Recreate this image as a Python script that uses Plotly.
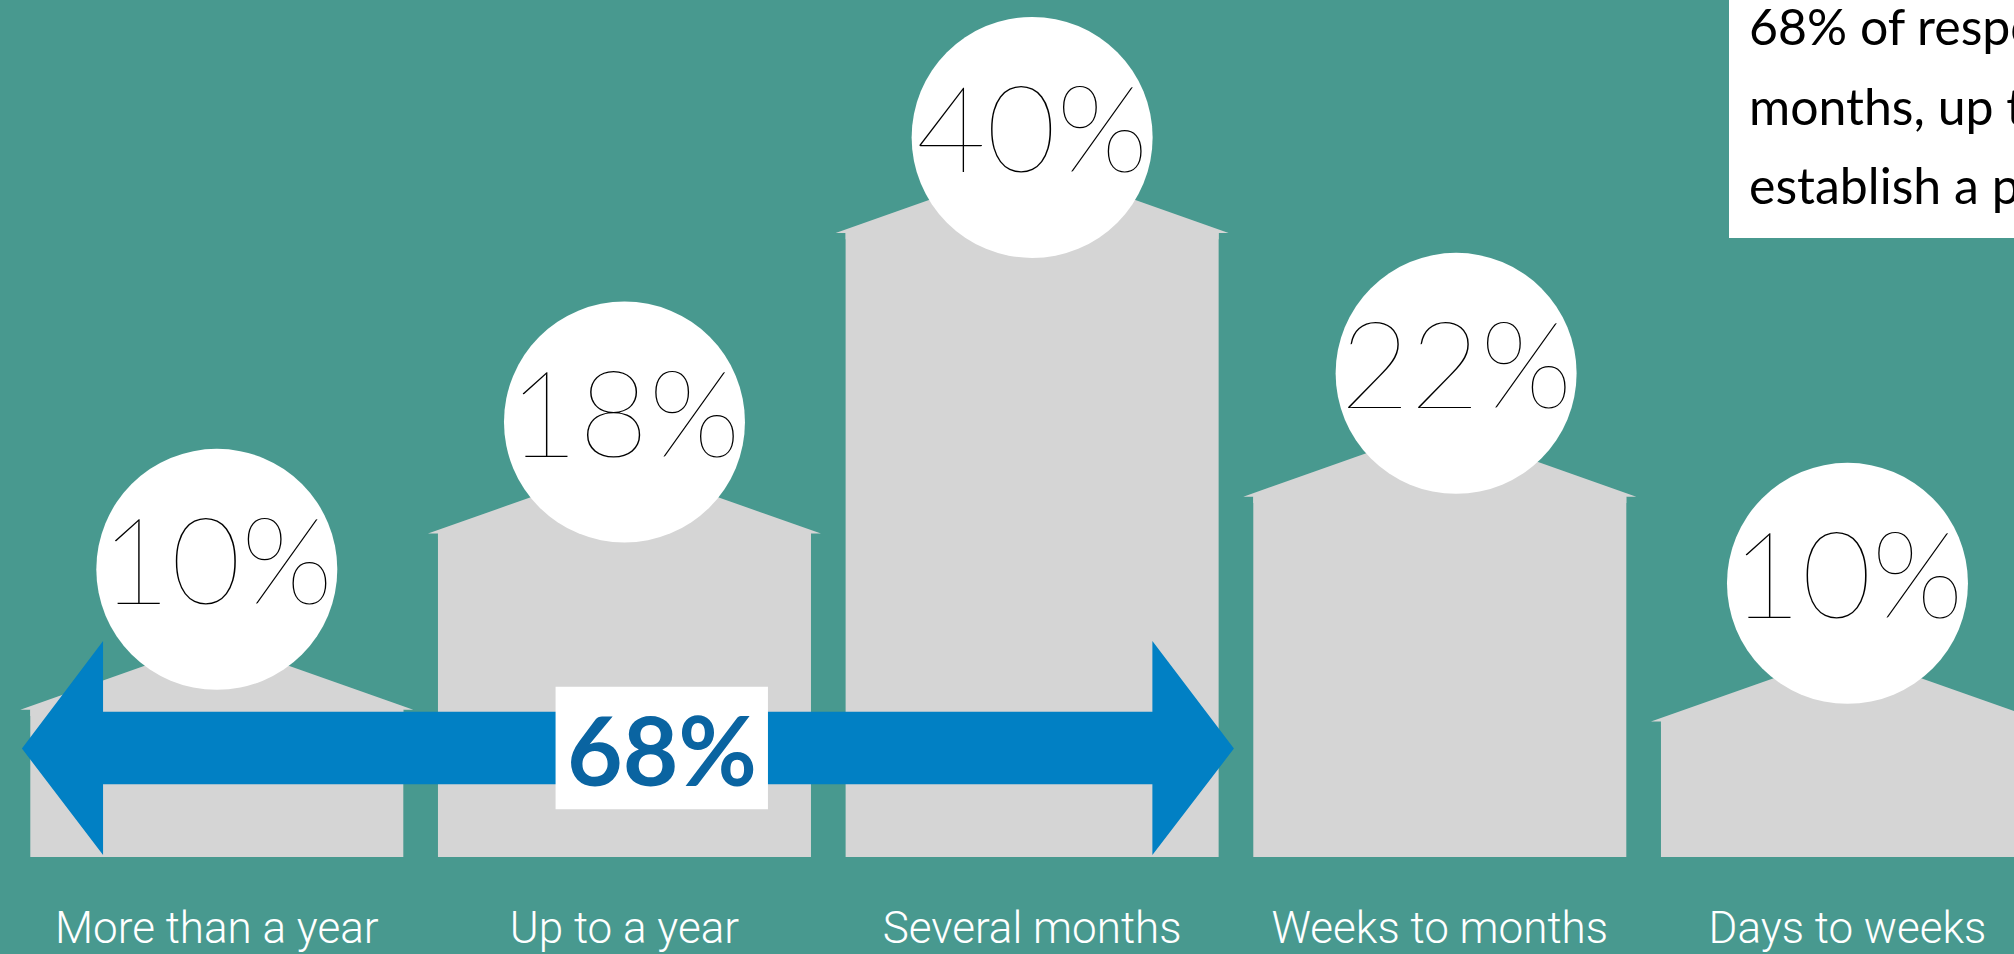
import plotly.graph_objects as go

# ---------------- data ----------------
categories = ["More than a year", "Up to a year", "Several months",
              "Weeks to months", "Days to weeks"]
percent_labels = [10, 18, 40, 22, 10]
# visual height of each house body (same units as the 40% house)
house_height = [9.44, 20.73, 40.0, 23.09, 8.68]
# vertical position of each percentage bubble (same units)
bubble_height = [18.44, 27.88, 46.12, 31.0, 17.54]
bubble_shift = [0.0, 0.0, 0.0, 0.04, 0.0]
combined_share = "68%"
note_lines = ["68% of respondents say it takes several",
              "months, up to a year or more than a year to",
              "establish a partnership"]

# ---------------- styles ----------------
TEAL = "#48998F"
GREY = "#D5D5D5"
BLUE = "#0180C4"
DARK_BLUE = "#0A64A1"
W, H = 2014, 954
BOTTOM = 93                      # margin below house bases (px)
X_RANGE = [-0.5318, 4.4085]
Y_RANGE = [0, 54.93]
BODY_W = 0.915
EAVE_HALF = 0.482
ROOF_H = 4.45

idx = list(range(len(categories)))

fig = go.Figure()

# house bodies
fig.add_trace(go.Bar(x=idx, y=house_height, width=BODY_W,
                     marker=dict(color=GREY, line=dict(width=0)),
                     hoverinfo="skip", showlegend=False))

# roofs (triangles on top of each body, overlapping the body slightly to avoid a seam)
rx, ry = [], []
bh = BODY_W / 2
for i, h in zip(idx, house_height):
    rx += [i - EAVE_HALF, i, i + EAVE_HALF, i + bh, i + bh, i - bh, i - bh,
           i - EAVE_HALF, None]
    ry += [h, h + ROOF_H, h, h, h - 0.4, h - 0.4, h, h, None]
fig.add_trace(go.Scatter(x=rx, y=ry, mode="lines", fill="toself",
                         fillcolor=GREY, line=dict(width=0, color=GREY),
                         hoverinfo="skip", showlegend=False))

# bubbles
bx = [i + s for i, s in zip(idx, bubble_shift)]
fig.add_trace(go.Scatter(x=bx, y=bubble_height, mode="markers",
                         marker=dict(size=241, color="white", line=dict(width=0)),
                         hoverinfo="skip", showlegend=False, cliponaxis=False))

# double arrow spanning the first three houses (layout shape, above traces)
xtl, xbl, xbr, xtr = -0.478, -0.279, 2.295, 2.495
yt, yht, yhb, yst, ysb = 6.95, 13.84, 0.13, 9.31, 4.66
path = (f"M {xtl},{yt} L {xbl},{yht} L {xbl},{yst} L {xbr},{yst} L {xbr},{yht} "
        f"L {xtr},{yt} L {xbr},{yhb} L {xbr},{ysb} L {xbl},{ysb} L {xbl},{yhb} Z")
shapes = [
    dict(type="path", path=path, xref="x", yref="y", fillcolor=BLUE,
         line=dict(width=0), layer="above"),
    dict(type="rect", xref="x", yref="y", x0=0.831, x1=1.352, y0=3.06, y1=10.91,
         fillcolor="white", line=dict(width=0), layer="above"),
    dict(type="rect", xref="paper", yref="paper", x0=1729 / W, x1=1.05,
         y0=1 - 239 / (H - BOTTOM), y1=1.05, fillcolor="white",
         line=dict(width=0), layer="above"),
]

# bubble labels
fig.add_trace(go.Scatter(x=bx, y=[b - 0.3 for b in bubble_height], mode="text",
                         text=[f"{v}%" for v in percent_labels],
                         textposition="middle center",
                         textfont=dict(family="Lato", size=121, color="black", weight=200),
                         hoverinfo="skip", showlegend=False, cliponaxis=False))

annotations = [
    dict(x=1.0915, y=6.98, xref="x", yref="y", text=f"<b>{combined_share}</b>",
         showarrow=False, xanchor="center", yanchor="middle",
         font=dict(family="Lato", size=96, color=DARK_BLUE, weight=900)),
]
plot_h = H - BOTTOM
for k, line in enumerate(note_lines):
    base = 43 + 80 * k
    annotations.append(dict(x=1747 / W, y=1 - (base - 17) / plot_h,
                            xref="paper", yref="paper", text=line,
                            showarrow=False, xanchor="left", yanchor="middle",
                            font=dict(family="Lato", size=50, color="black")))

fig.update_layout(
    width=W, height=H,
    margin=dict(l=0, r=0, t=0, b=BOTTOM, pad=0),
    paper_bgcolor=TEAL, plot_bgcolor=TEAL,
    shapes=shapes, annotations=annotations,
    barmode="overlay", showlegend=False,
    xaxis=dict(range=X_RANGE, tickmode="array", tickvals=idx, ticktext=categories,
               showgrid=False, zeroline=False, showline=False, ticks="",
               ticklabelstandoff=41,
               tickfont=dict(family="Roboto", size=44, color="white", weight=300),
               fixedrange=True),
    yaxis=dict(range=Y_RANGE, visible=False, fixedrange=True),
)

fig.write_html("out.html", config={"displayModeBar": False},
               post_script="document.body.style.margin='0';"
                           "document.body.style.overflow='hidden';")
